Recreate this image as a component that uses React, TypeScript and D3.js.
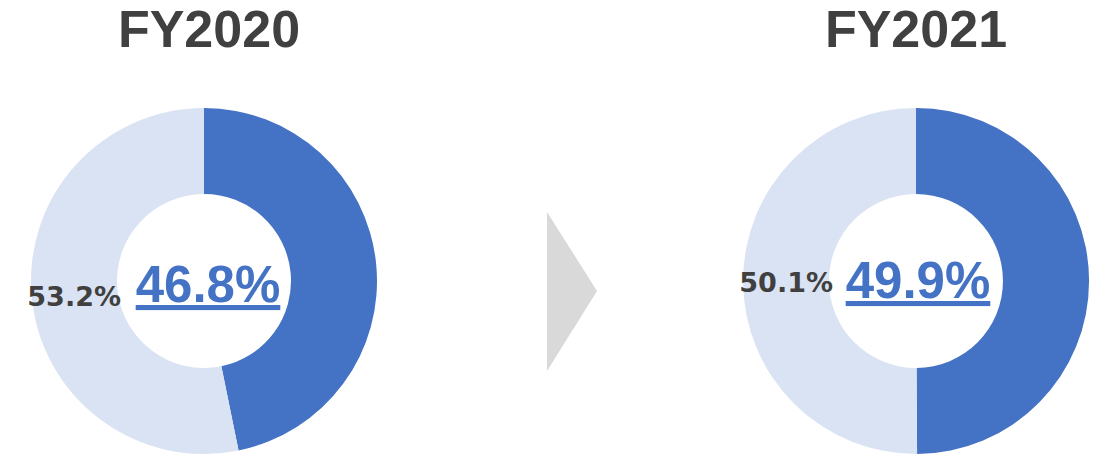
import React from "react";
import * as d3 from "d3";

const years = ["FY2020", "FY2021"];
const shareValues = [46.8, 49.9];
const otherValues = [53.2, 50.1];

const COLORS = { main: "#4472C4", other: "#DAE3F3", text: "#404040", arrow: "#D9D9D9" };

const W = 1100;
const H = 456;
const R_OUT = 173;
const R_IN = 87;
const CY = 281;

const panels = [
  { cx: 204, titleX: 209, bigX: 208, bigY: 302, smallX: 121, smallY: 306 },
  { cx: 916, titleX: 916, bigX: 918, bigY: 298, smallX: 833, smallY: 292 },
];

export default function App() {
  const pie = d3.pie<number>().sort(null).value((d) => d);
  const arc = d3.arc<d3.PieArcDatum<number>>().innerRadius(R_IN).outerRadius(R_OUT);
  const fmt = (v: number) => d3.format(".1f")(v) + "%";

  return (
    <svg width={W} height={H} style={{ position: "absolute", left: 0, top: 0 }}>
      <rect width={W} height={H} fill="#ffffff" />
      {years.map((yr, i) => {
        const p = panels[i];
        const arcs = pie([shareValues[i], otherValues[i]]);
        return (
          <g key={yr}>
            <text
              x={p.titleX}
              y={47}
              textAnchor="middle"
              fontFamily="'Liberation Sans', Arial, sans-serif"
              fontWeight="bold"
              fontSize={52}
              fill={COLORS.text}
            >
              {yr}
            </text>
            <g transform={`translate(${p.cx},${CY})`}>
              {arcs.map((a, j) => (
                <path key={j} d={arc(a) || ""} fill={j === 0 ? COLORS.main : COLORS.other} />
              ))}
            </g>
            <text
              x={p.bigX}
              y={p.bigY}
              textAnchor="middle"
              fontFamily="'Liberation Sans', Arial, sans-serif"
              fontWeight="bold"
              fontSize={51}
              fill={COLORS.main}
              textDecoration="underline"
            >
              {fmt(shareValues[i])}
            </text>
            <text
              x={p.smallX}
              y={p.smallY}
              textAnchor="end"
              fontFamily="'DejaVu Sans', Verdana, sans-serif"
              fontWeight="bold"
              fontSize={27}
              fill={COLORS.text}
            >
              {fmt(otherValues[i])}
            </text>
          </g>
        );
      })}
      <path d="M547,212 L597,291 L547,371 Z" fill={COLORS.arrow} />
    </svg>
  );
}
